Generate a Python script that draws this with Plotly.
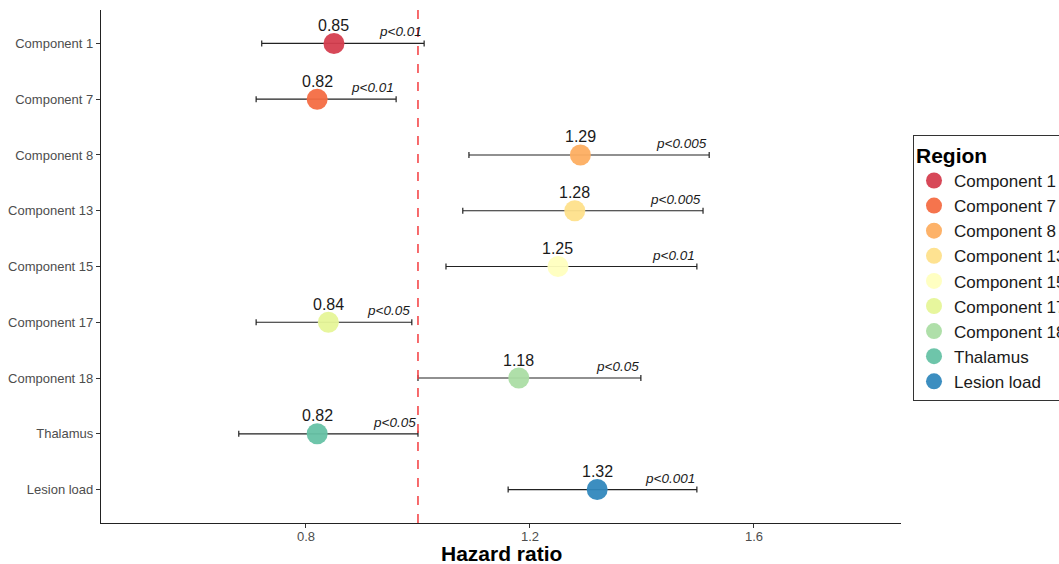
import plotly.graph_objects as go

regions = ["Component 1", "Component 7", "Component 8", "Component 13", "Component 15",
           "Component 17", "Component 18", "Thalamus", "Lesion load"]
hr = [0.85, 0.82, 1.29, 1.28, 1.25, 0.84, 1.18, 0.82, 1.32]
lower = [0.721, 0.711, 1.091, 1.080, 1.050, 0.711, 1.000, 0.680, 1.161]
upper = [1.011, 0.961, 1.520, 1.509, 1.498, 0.989, 1.398, 1.000, 1.498]
pvals = ["p<0.01", "p<0.01", "p<0.005", "p<0.005", "p<0.01", "p<0.05", "p<0.05", "p<0.05", "p<0.001"]
colors = ["#D53E4F", "#F46D43", "#FDAE61", "#FEE08B", "#FFFFBF", "#E6F598", "#ABDDA4", "#66C2A5", "#3288BD"]

FONT = "Liberation Sans, Arial, Helvetica, sans-serif"

fig = go.Figure()
for i, r in enumerate(regions):
    fig.add_trace(go.Scatter(
        x=[hr[i]], y=[r], mode="markers", name=r,
        marker=dict(size=21, color=colors[i], opacity=0.95, line=dict(width=0)),
        error_x=dict(type="data", symmetric=False,
                     array=[upper[i] - hr[i]], arrayminus=[hr[i] - lower[i]],
                     color="#222222", thickness=1.2, width=3),
    ))

for i, r in enumerate(regions):
    fig.add_annotation(x=hr[i], y=r, xref="x", yref="y", text=f"{hr[i]:.2f}",
                       showarrow=False, xanchor="center", yanchor="middle", yshift=18,
                       font=dict(size=16, color="#1a1a1a", family=FONT))
    fig.add_annotation(x=upper[i], y=r, xref="x", yref="y",
                       text="<i>" + pvals[i].replace("<", "&lt;") + "</i>",
                       showarrow=False, xanchor="right", yanchor="bottom", yshift=2,
                       font=dict(size=13.5, color="#1a1a1a", family=FONT))

fig.add_annotation(x=0.5, y=0, xref="paper", yref="paper", text="<b>Hazard ratio</b>",
                   showarrow=False, xanchor="center", yanchor="middle", yshift=-30,
                   font=dict(size=21, color="black", family=FONT))

fig.add_shape(type="line", x0=1.0, x1=1.0, y0=0, y1=1, xref="x", yref="paper",
              line=dict(color="#F5474A", width=1.6, dash="dash"))

fig.update_layout(
    width=1110, height=564,
    margin=dict(l=101, r=209, t=10, b=41, autoexpand=False),
    paper_bgcolor="white", plot_bgcolor="white",
    font=dict(family=FONT),
    showlegend=True,
    legend=dict(
        title=dict(text="<b>Region</b>", font=dict(size=21, color="black", family=FONT)),
        x=1.015, y=0.757, xanchor="left", yanchor="top",
        bordercolor="#333333", borderwidth=1, bgcolor="white",
        font=dict(size=17, color="#1a1a1a", family=FONT),
        itemsizing="trace", tracegroupgap=0,
    ),
    xaxis=dict(
        range=[0.434, 1.8625], tickvals=[0.8, 1.2, 1.6], ticktext=["0.8", "1.2", "1.6"],
        showgrid=False, zeroline=False, showline=True, linecolor="#222222", linewidth=1.2,
        ticks="outside", ticklen=4, tickcolor="#333333", ticklabelstandoff=-3,
        tickfont=dict(size=13, color="#4d4d4d", family=FONT),
    ),
    yaxis=dict(
        type="category", categoryorder="array", categoryarray=regions,
        range=[8.6, -0.6],
        showgrid=False, zeroline=False, showline=True, linecolor="#222222", linewidth=1.2,
        ticks="outside", ticklen=4, tickcolor="#333333",
        tickfont=dict(size=13, color="#4d4d4d", family=FONT),
    ),
)

fig.write_html(
    "out.html",
    config={"displayModeBar": False},
    post_script=("document.body.style.margin='0';"
                 "document.body.style.overflow='hidden';"
                 "document.documentElement.style.overflow='hidden';"),
)
